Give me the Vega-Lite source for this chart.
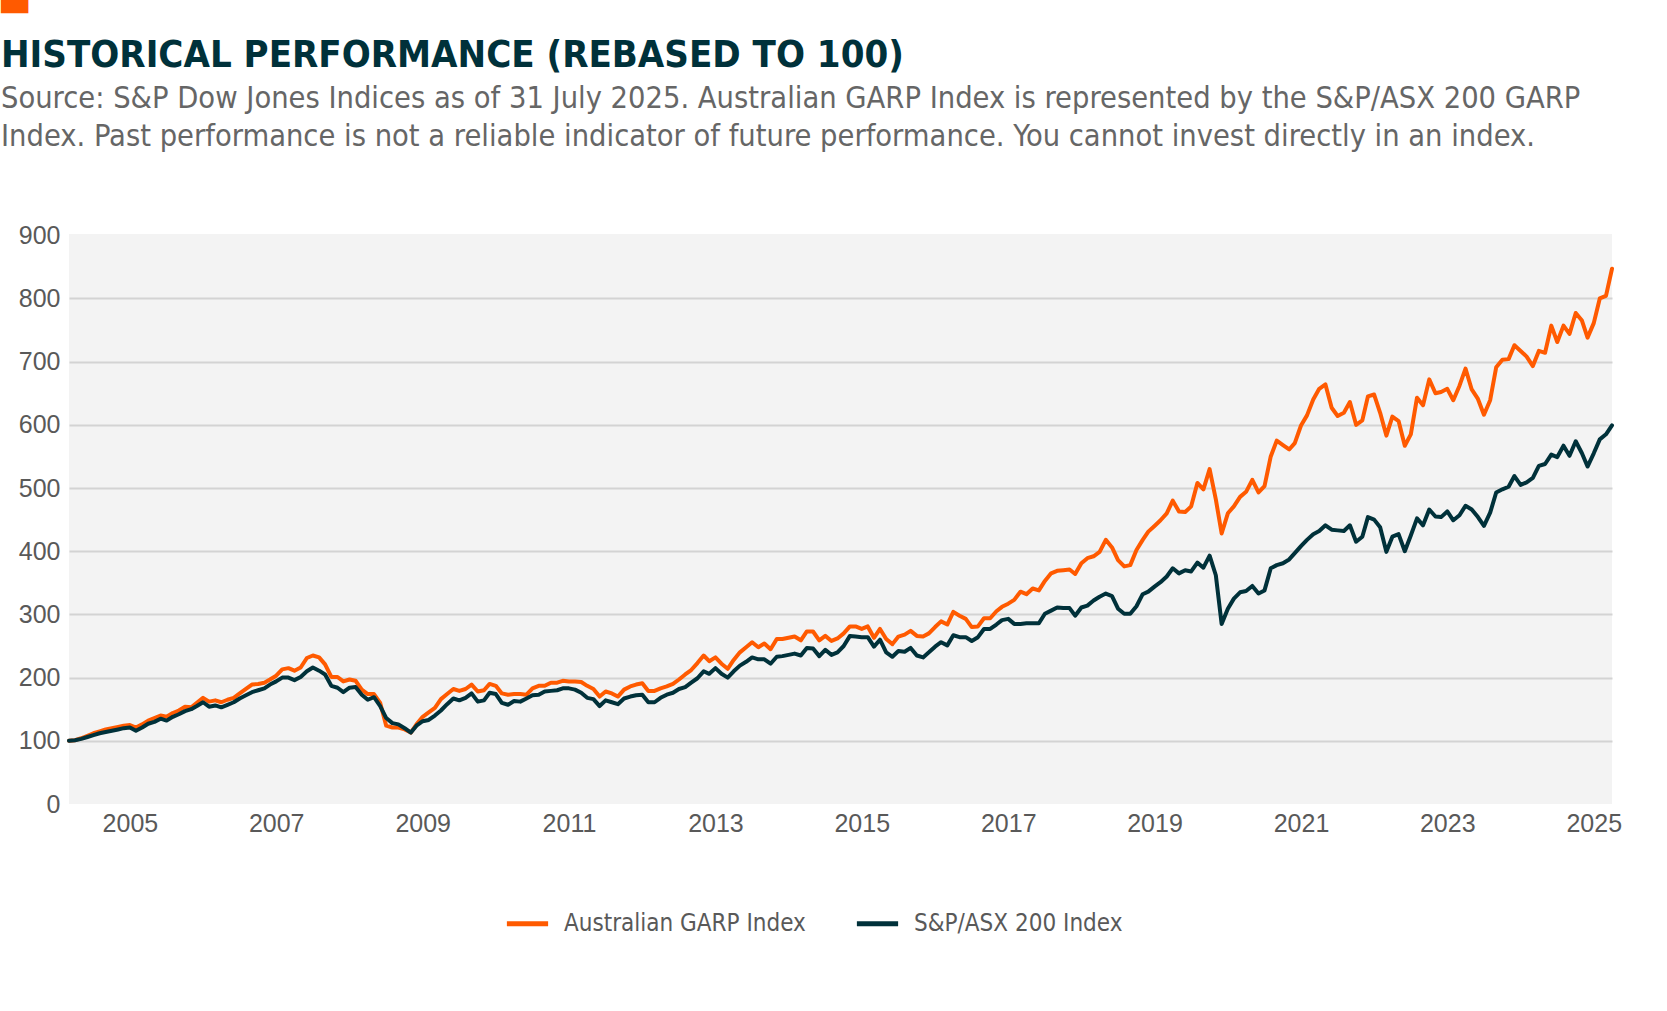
{
"$schema": "https://vega.github.io/schema/vega-lite/v6.json",
"autosize": {"type": "none"},
"width": 1543,
"height": 570,
"padding": {"left": 69, "top": 234, "right": 55, "bottom": 207},
"background": "white",
"title": {
  "text": "HISTORICAL PERFORMANCE (REBASED TO 100)",
  "subtitle": ["Source: S&P Dow Jones Indices as of 31 July 2025. Australian GARP Index is represented by the S&P/ASX 200 GARP", "Index. Past performance is not a reliable indicator of future performance. You cannot invest directly in an index."],
  "anchor": "start",
  "frame": "group",
  "dx": -68,
  "dy": 246,
  "offset": 80,
  "font": "DejaVu Sans Condensed, sans-serif",
  "fontSize": 38,
  "fontWeight": "bold",
  "color": "#00313A",
  "subtitleFont": "DejaVu Sans Condensed, sans-serif",
  "subtitleFontSize": 30.5,
  "subtitleFontWeight": "normal",
  "subtitleColor": "#666666",
  "subtitleLineHeight": 38,
  "subtitlePadding": 9
},
"data": {
  "format": {"parse": {"d": "date:'%Y-%m'"}},
  "values": [
{"d":"2004-06","GARP":100,"ASX":100},{"d":"2004-07","GARP":101,"ASX":101},{"d":"2004-08","GARP":104,"ASX":103},{"d":"2004-09","GARP":108,"ASX":106},{"d":"2004-10","GARP":112,"ASX":109},{"d":"2004-11","GARP":115,"ASX":112},{"d":"2004-12","GARP":118,"ASX":114},
{"d":"2005-01","GARP":120,"ASX":116},{"d":"2005-02","GARP":122,"ASX":118},{"d":"2005-03","GARP":124,"ASX":120},{"d":"2005-04","GARP":125,"ASX":121},{"d":"2005-05","GARP":121,"ASX":116},{"d":"2005-06","GARP":126,"ASX":121},{"d":"2005-07","GARP":132,"ASX":127},{"d":"2005-08","GARP":136,"ASX":130},{"d":"2005-09","GARP":140,"ASX":135},{"d":"2005-10","GARP":138,"ASX":132},{"d":"2005-11","GARP":144,"ASX":138},{"d":"2005-12","GARP":148,"ASX":142},
{"d":"2006-01","GARP":154,"ASX":147},{"d":"2006-02","GARP":153,"ASX":150},{"d":"2006-03","GARP":160,"ASX":155},{"d":"2006-04","GARP":168,"ASX":161},{"d":"2006-05","GARP":162,"ASX":154},{"d":"2006-06","GARP":164,"ASX":156},{"d":"2006-07","GARP":161,"ASX":153},{"d":"2006-08","GARP":165,"ASX":157},{"d":"2006-09","GARP":168,"ASX":161},{"d":"2006-10","GARP":175,"ASX":167},{"d":"2006-11","GARP":182,"ASX":172},{"d":"2006-12","GARP":189,"ASX":177},
{"d":"2007-01","GARP":190,"ASX":180},{"d":"2007-02","GARP":192,"ASX":183},{"d":"2007-03","GARP":197,"ASX":189},{"d":"2007-04","GARP":203,"ASX":194},{"d":"2007-05","GARP":213,"ASX":200},{"d":"2007-06","GARP":215,"ASX":200},{"d":"2007-07","GARP":211,"ASX":196},{"d":"2007-08","GARP":216,"ASX":201},{"d":"2007-09","GARP":231,"ASX":210},{"d":"2007-10","GARP":235,"ASX":216},{"d":"2007-11","GARP":232,"ASX":211},{"d":"2007-12","GARP":221,"ASX":205},
{"d":"2008-01","GARP":201,"ASX":187},{"d":"2008-02","GARP":201,"ASX":184},{"d":"2008-03","GARP":194,"ASX":177},{"d":"2008-04","GARP":197,"ASX":184},{"d":"2008-05","GARP":195,"ASX":185},{"d":"2008-06","GARP":181,"ASX":173},{"d":"2008-07","GARP":174,"ASX":165},{"d":"2008-08","GARP":174,"ASX":169},{"d":"2008-09","GARP":160,"ASX":155},{"d":"2008-10","GARP":124,"ASX":136},{"d":"2008-11","GARP":121,"ASX":128},{"d":"2008-12","GARP":121,"ASX":126},
{"d":"2009-01","GARP":118,"ASX":120},{"d":"2009-02","GARP":113,"ASX":113},{"d":"2009-03","GARP":126,"ASX":124},{"d":"2009-04","GARP":138,"ASX":131},{"d":"2009-05","GARP":145,"ASX":133},{"d":"2009-06","GARP":152,"ASX":140},{"d":"2009-07","GARP":166,"ASX":148},{"d":"2009-08","GARP":174,"ASX":158},{"d":"2009-09","GARP":182,"ASX":167},{"d":"2009-10","GARP":179,"ASX":164},{"d":"2009-11","GARP":182,"ASX":168},{"d":"2009-12","GARP":189,"ASX":175},
{"d":"2010-01","GARP":178,"ASX":162},{"d":"2010-02","GARP":180,"ASX":164},{"d":"2010-03","GARP":190,"ASX":176},{"d":"2010-04","GARP":187,"ASX":174},{"d":"2010-05","GARP":175,"ASX":160},{"d":"2010-06","GARP":173,"ASX":157},{"d":"2010-07","GARP":174,"ASX":163},{"d":"2010-08","GARP":174,"ASX":162},{"d":"2010-09","GARP":173,"ASX":167},{"d":"2010-10","GARP":183,"ASX":172},{"d":"2010-11","GARP":187,"ASX":173},{"d":"2010-12","GARP":187,"ASX":178},
{"d":"2011-01","GARP":192,"ASX":179},{"d":"2011-02","GARP":192,"ASX":180},{"d":"2011-03","GARP":195,"ASX":183},{"d":"2011-04","GARP":194,"ASX":183},{"d":"2011-05","GARP":194,"ASX":181},{"d":"2011-06","GARP":193,"ASX":176},{"d":"2011-07","GARP":187,"ASX":168},{"d":"2011-08","GARP":182,"ASX":166},{"d":"2011-09","GARP":170,"ASX":155},{"d":"2011-10","GARP":178,"ASX":164},{"d":"2011-11","GARP":175,"ASX":161},{"d":"2011-12","GARP":170,"ASX":158},
{"d":"2012-01","GARP":181,"ASX":167},{"d":"2012-02","GARP":186,"ASX":170},{"d":"2012-03","GARP":189,"ASX":172},{"d":"2012-04","GARP":191,"ASX":173},{"d":"2012-05","GARP":179,"ASX":161},{"d":"2012-06","GARP":179,"ASX":161},{"d":"2012-07","GARP":183,"ASX":168},{"d":"2012-08","GARP":186,"ASX":173},{"d":"2012-09","GARP":190,"ASX":176},{"d":"2012-10","GARP":197,"ASX":182},{"d":"2012-11","GARP":205,"ASX":185},{"d":"2012-12","GARP":212,"ASX":192},
{"d":"2013-01","GARP":223,"ASX":199},{"d":"2013-02","GARP":235,"ASX":210},{"d":"2013-03","GARP":226,"ASX":206},{"d":"2013-04","GARP":232,"ASX":215},{"d":"2013-05","GARP":222,"ASX":206},{"d":"2013-06","GARP":214,"ASX":200},{"d":"2013-07","GARP":228,"ASX":210},{"d":"2013-08","GARP":240,"ASX":219},{"d":"2013-09","GARP":248,"ASX":225},{"d":"2013-10","GARP":256,"ASX":232},{"d":"2013-11","GARP":248,"ASX":229},{"d":"2013-12","GARP":254,"ASX":229},
{"d":"2014-01","GARP":245,"ASX":222},{"d":"2014-02","GARP":261,"ASX":233},{"d":"2014-03","GARP":261,"ASX":234},{"d":"2014-04","GARP":263,"ASX":236},{"d":"2014-05","GARP":265,"ASX":238},{"d":"2014-06","GARP":259,"ASX":235},{"d":"2014-07","GARP":273,"ASX":247},{"d":"2014-08","GARP":273,"ASX":246},{"d":"2014-09","GARP":259,"ASX":234},{"d":"2014-10","GARP":266,"ASX":244},{"d":"2014-11","GARP":258,"ASX":236},{"d":"2014-12","GARP":262,"ASX":240},
{"d":"2015-01","GARP":270,"ASX":250},{"d":"2015-02","GARP":281,"ASX":266},{"d":"2015-03","GARP":281,"ASX":265},{"d":"2015-04","GARP":277,"ASX":264},{"d":"2015-05","GARP":281,"ASX":264},{"d":"2015-06","GARP":263,"ASX":249},{"d":"2015-07","GARP":277,"ASX":260},{"d":"2015-08","GARP":261,"ASX":240},{"d":"2015-09","GARP":253,"ASX":233},{"d":"2015-10","GARP":265,"ASX":242},{"d":"2015-11","GARP":268,"ASX":241},{"d":"2015-12","GARP":274,"ASX":247},
{"d":"2016-01","GARP":266,"ASX":235},{"d":"2016-02","GARP":265,"ASX":232},{"d":"2016-03","GARP":270,"ASX":240},{"d":"2016-04","GARP":280,"ASX":249},{"d":"2016-05","GARP":289,"ASX":256},{"d":"2016-06","GARP":284,"ASX":251},{"d":"2016-07","GARP":304,"ASX":267},{"d":"2016-08","GARP":298,"ASX":264},{"d":"2016-09","GARP":293,"ASX":264},{"d":"2016-10","GARP":280,"ASX":258},{"d":"2016-11","GARP":281,"ASX":264},{"d":"2016-12","GARP":294,"ASX":277},
{"d":"2017-01","GARP":294,"ASX":277},{"d":"2017-02","GARP":305,"ASX":284},{"d":"2017-03","GARP":312,"ASX":291},{"d":"2017-04","GARP":317,"ASX":293},{"d":"2017-05","GARP":323,"ASX":285},{"d":"2017-06","GARP":336,"ASX":285},{"d":"2017-07","GARP":332,"ASX":286},{"d":"2017-08","GARP":341,"ASX":286},{"d":"2017-09","GARP":338,"ASX":286},{"d":"2017-10","GARP":353,"ASX":301},{"d":"2017-11","GARP":365,"ASX":306},{"d":"2017-12","GARP":369,"ASX":311},
{"d":"2018-01","GARP":370,"ASX":310},{"d":"2018-02","GARP":371,"ASX":310},{"d":"2018-03","GARP":364,"ASX":298},{"d":"2018-04","GARP":381,"ASX":311},{"d":"2018-05","GARP":389,"ASX":314},{"d":"2018-06","GARP":392,"ASX":322},{"d":"2018-07","GARP":399,"ASX":328},{"d":"2018-08","GARP":418,"ASX":333},{"d":"2018-09","GARP":406,"ASX":329},{"d":"2018-10","GARP":386,"ASX":309},{"d":"2018-11","GARP":376,"ASX":301},{"d":"2018-12","GARP":378,"ASX":301},
{"d":"2019-01","GARP":402,"ASX":313},{"d":"2019-02","GARP":418,"ASX":332},{"d":"2019-03","GARP":431,"ASX":336},{"d":"2019-04","GARP":440,"ASX":344},{"d":"2019-05","GARP":449,"ASX":351},{"d":"2019-06","GARP":460,"ASX":360},{"d":"2019-07","GARP":480,"ASX":373},{"d":"2019-08","GARP":463,"ASX":365},{"d":"2019-09","GARP":462,"ASX":370},{"d":"2019-10","GARP":471,"ASX":368},{"d":"2019-11","GARP":508,"ASX":382},{"d":"2019-12","GARP":498,"ASX":374},
{"d":"2020-01","GARP":530,"ASX":393},{"d":"2020-02","GARP":482,"ASX":362},{"d":"2020-03","GARP":428,"ASX":285},{"d":"2020-04","GARP":460,"ASX":309},{"d":"2020-05","GARP":471,"ASX":325},{"d":"2020-06","GARP":486,"ASX":335},{"d":"2020-07","GARP":494,"ASX":337},{"d":"2020-08","GARP":513,"ASX":345},{"d":"2020-09","GARP":493,"ASX":333},{"d":"2020-10","GARP":503,"ASX":338},{"d":"2020-11","GARP":550,"ASX":373},{"d":"2020-12","GARP":575,"ASX":378},
{"d":"2021-01","GARP":568,"ASX":381},{"d":"2021-02","GARP":561,"ASX":387},{"d":"2021-03","GARP":571,"ASX":397},{"d":"2021-04","GARP":599,"ASX":408},{"d":"2021-05","GARP":615,"ASX":418},{"d":"2021-06","GARP":640,"ASX":427},{"d":"2021-07","GARP":657,"ASX":432},{"d":"2021-08","GARP":664,"ASX":441},{"d":"2021-09","GARP":627,"ASX":434},{"d":"2021-10","GARP":614,"ASX":433},{"d":"2021-11","GARP":619,"ASX":432},{"d":"2021-12","GARP":636,"ASX":441},
{"d":"2022-01","GARP":600,"ASX":415},{"d":"2022-02","GARP":607,"ASX":423},{"d":"2022-03","GARP":645,"ASX":454},{"d":"2022-04","GARP":648,"ASX":450},{"d":"2022-05","GARP":619,"ASX":438},{"d":"2022-06","GARP":583,"ASX":399},{"d":"2022-07","GARP":613,"ASX":423},{"d":"2022-08","GARP":606,"ASX":427},{"d":"2022-09","GARP":567,"ASX":400},{"d":"2022-10","GARP":585,"ASX":425},{"d":"2022-11","GARP":643,"ASX":452},{"d":"2022-12","GARP":631,"ASX":441},
{"d":"2023-01","GARP":672,"ASX":466},{"d":"2023-02","GARP":650,"ASX":455},{"d":"2023-03","GARP":652,"ASX":454},{"d":"2023-04","GARP":657,"ASX":463},{"d":"2023-05","GARP":639,"ASX":449},{"d":"2023-06","GARP":662,"ASX":457},{"d":"2023-07","GARP":689,"ASX":472},{"d":"2023-08","GARP":656,"ASX":466},{"d":"2023-09","GARP":641,"ASX":454},{"d":"2023-10","GARP":616,"ASX":440},{"d":"2023-11","GARP":639,"ASX":461},{"d":"2023-12","GARP":691,"ASX":493},
{"d":"2024-01","GARP":703,"ASX":498},{"d":"2024-02","GARP":704,"ASX":502},{"d":"2024-03","GARP":726,"ASX":519},{"d":"2024-04","GARP":717,"ASX":505},{"d":"2024-05","GARP":708,"ASX":509},{"d":"2024-06","GARP":693,"ASX":516},{"d":"2024-07","GARP":717,"ASX":535},{"d":"2024-08","GARP":714,"ASX":538},{"d":"2024-09","GARP":757,"ASX":553},{"d":"2024-10","GARP":731,"ASX":549},{"d":"2024-11","GARP":757,"ASX":567},{"d":"2024-12","GARP":744,"ASX":551},
{"d":"2025-01","GARP":777,"ASX":574},{"d":"2025-02","GARP":765,"ASX":555},{"d":"2025-03","GARP":738,"ASX":534},{"d":"2025-04","GARP":761,"ASX":555},{"d":"2025-05","GARP":800,"ASX":577},{"d":"2025-06","GARP":804,"ASX":585},{"d":"2025-07","GARP":847,"ASX":599}
  ]
},
"transform": [{"fold": ["GARP", "ASX"], "as": ["series", "value"]}],
"mark": {"type": "line", "strokeWidth": 4, "strokeJoin": "round", "strokeCap": "round"},
"encoding": {
  "x": {
    "field": "d", "type": "temporal",
    "scale": {"domain": [{"year": 2004, "month": 6, "date": 1}, {"year": 2025, "month": 7, "date": 1}]},
    "axis": {
      "title": null,
      "values": [{"year": 2005, "month": 4, "date": 1}, {"year": 2007, "month": 4, "date": 1}, {"year": 2009, "month": 4, "date": 1}, {"year": 2011, "month": 4, "date": 1}, {"year": 2013, "month": 4, "date": 1}, {"year": 2015, "month": 4, "date": 1}, {"year": 2017, "month": 4, "date": 1}, {"year": 2019, "month": 4, "date": 1}, {"year": 2021, "month": 4, "date": 1}, {"year": 2023, "month": 4, "date": 1}, {"year": 2025, "month": 4, "date": 1}],
      "format": "%Y",
      "labelFont": "Liberation Sans, sans-serif",
      "labelFontSize": 25,
      "labelColor": "#595959",
      "labelPadding": 7,
      "labelFlush": false,
      "labelOverlap": false,
      "ticks": false,
      "domain": false,
      "grid": false
    }
  },
  "y": {
    "field": "value", "type": "quantitative",
    "scale": {"domain": [0, 902], "nice": false},
    "axis": {
      "values": [0, 100, 200, 300, 400, 500, 600, 700, 800, 900],
      "labelFont": "Liberation Sans, sans-serif",
      "labelFontSize": 25,
      "labelColor": "#595959",
      "labelPadding": 9,
      "ticks": false,
      "domain": false,
      "grid": true,
      "gridColor": {"condition": {"test": "datum.value === 0 || datum.value === 900", "value": "transparent"}, "value": "#d3d3d3"},
      "gridWidth": 2,
      "title": "▬",
      "titleColor": "#FF5A00",
      "titleFont": "DejaVu Sans",
      "titleFontSize": 36,
      "titleFontWeight": "normal",
      "titleAngle": 0,
      "titleAlign": "left",
      "titleBaseline": "top",
      "titleX": -72,
      "titleY": -247
    }
  },
  "color": {
    "field": "series", "type": "nominal",
    "scale": {"domain": ["GARP", "ASX"], "range": ["#FF5A00", "#00313A"]},
    "legend": {
      "title": null,
      "orient": "none",
      "legendX": 435,
      "legendY": 666,
      "direction": "horizontal",
      "symbolType": "stroke",
      "symbolSize": 1700,
      "symbolStrokeWidth": 5,
      "labelFont": "DejaVu Sans Condensed, sans-serif",
      "labelFontSize": 24,
      "labelColor": "#595959",
      "labelOffset": 13,
      "labelLimit": 500,
      "columnPadding": 40,
      "labelExpr": "datum.label === 'GARP' ? 'Australian GARP Index' : 'S&P/ASX 200 Index'"
    }
  }
},
"config": {"view": {"fill": "#f3f3f3", "stroke": null}}
}
